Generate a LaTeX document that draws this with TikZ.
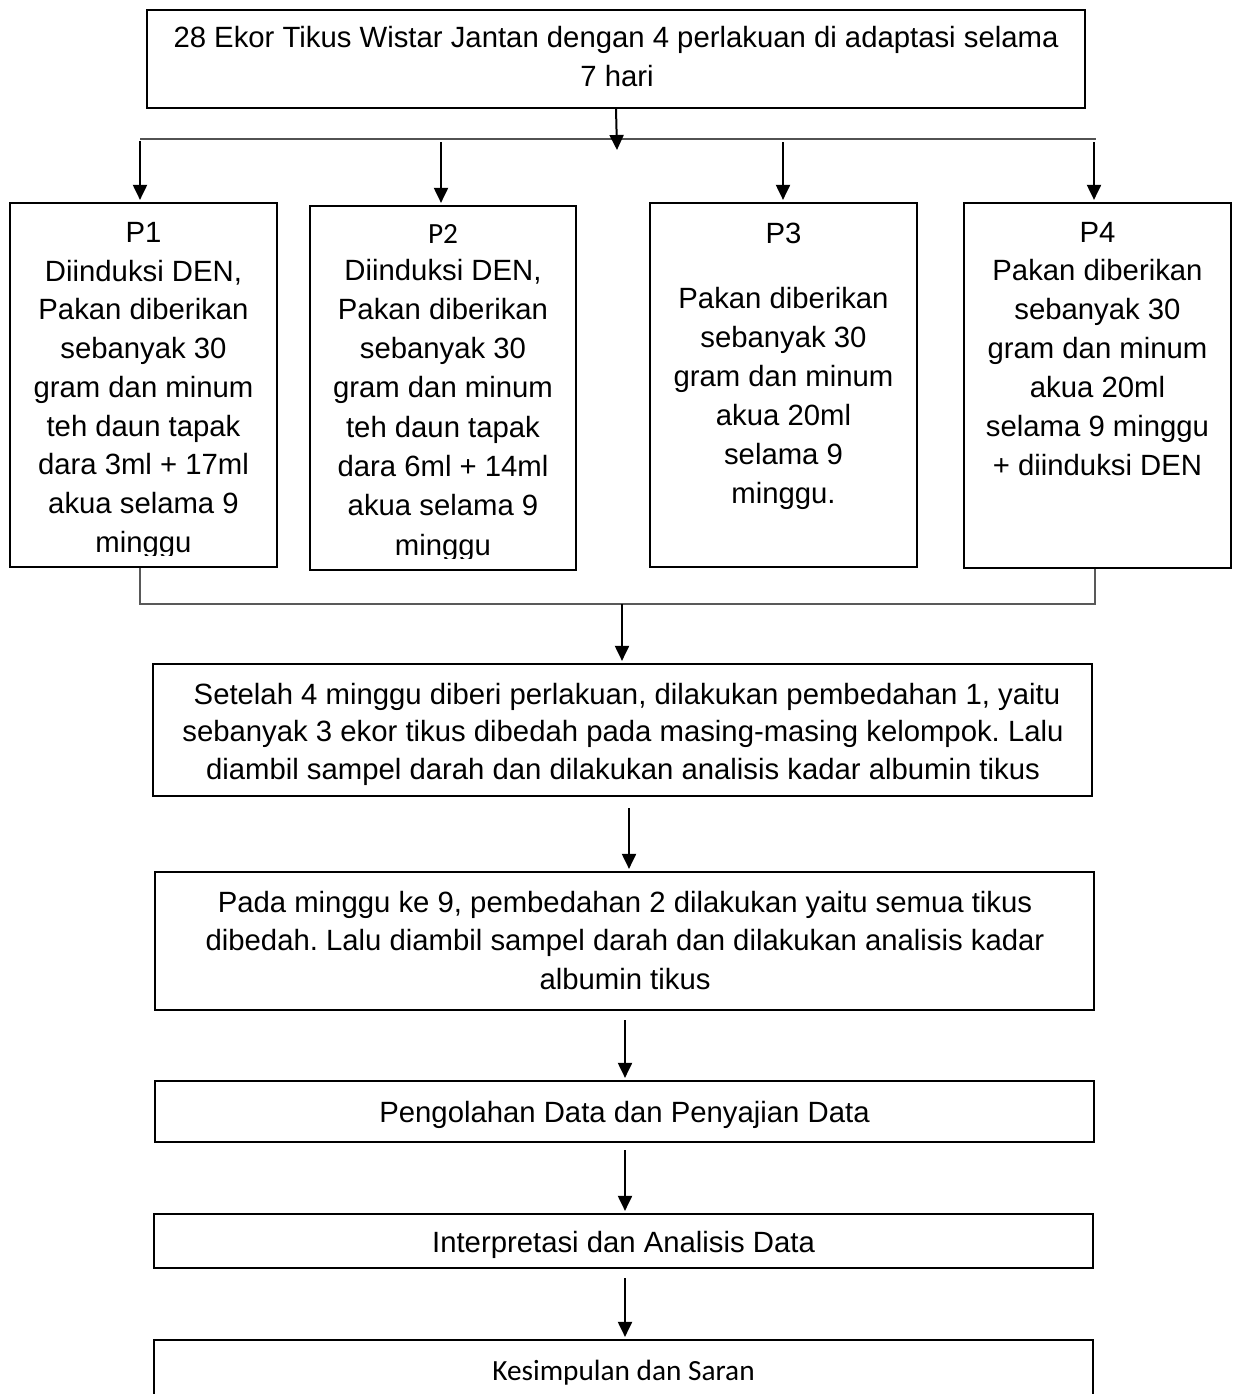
\documentclass[tikz,border=0pt]{standalone}
\usepackage{fontspec}
\setmainfont{Liberation Sans}
\newfontfamily\carl{Carlito}
\usetikzlibrary{arrows.meta}
\frenchspacing
\begin{document}
\begin{tikzpicture}[x=1pt,y=-1pt,
  box/.style={draw=black,line width=2.2pt,rectangle,inner sep=0pt,fill=none},
  txt/.style={anchor=base,inner sep=0pt,font=\fontsize{29.3}{38.75}\selectfont},
  ctxt/.style={anchor=base,inner sep=0pt,font=\carl\fontsize{29.3}{36}\selectfont},
  arr/.style={draw=black,line width=2pt,-{Triangle[length=15pt,width=14pt]},shorten >=2pt},
  gline/.style={draw=black!68,line width=2pt},
  cline/.style={draw=black!65,line width=1.2pt}]
\useasboundingbox (0,0) rectangle (1236,1394);
\fill[white] (0,0) rectangle (1236,1394);

% boxes
\node[box,minimum width=938pt,minimum height=98pt] (top) at (616,59) {};
\node[box,minimum width=267pt,minimum height=364pt] (p1) at (143.5,385) {};
\node[box,minimum width=266pt,minimum height=364pt] (p2) at (443,388) {};
\node[box,minimum width=267pt,minimum height=364pt] (p3) at (783.5,385) {};
\node[box,minimum width=267pt,minimum height=365pt] (p4) at (1097.5,385.5) {};
\node[box,minimum width=939pt,minimum height=132pt] (A) at (622.5,730) {};
\node[box,minimum width=939pt,minimum height=138pt] (B) at (624.5,941) {};
\node[box,minimum width=939pt,minimum height=61pt] (C) at (624.5,1111.5) {};
\node[box,minimum width=939pt,minimum height=54pt] (D) at (623.5,1241) {};
\node[box,minimum width=939pt,minimum height=100pt] (E) at (623.5,1390) {};

% texts
\node[txt] (t1) at (616,48) {28 Ekor Tikus Wistar Jantan dengan 4 perlakuan di adaptasi selama};
\node[txt] (t2) at (617,87) {7 hari};

\begin{scope}
\clip (10,200) rectangle (277,555);
\foreach \y/\t [count=\i] in {242/{P1},281/{Diinduksi DEN,},319.5/{Pakan diberikan},358/{sebanyak 30},397/{gram dan minum},436/{teh daun tapak},474.5/{dara 3ml + 17ml},513/{akua selama 9},552/{minggu}}
  \node[txt] (pa\i) at (143.5,\y) {\t};
\end{scope}

\node[ctxt] (pb1) at (443,243) {P2};
\begin{scope}
\clip (310,250) rectangle (576,558);
\foreach \y/\t [count=\i] in {280/{Diinduksi DEN,},319.3/{Pakan diberikan},358.6/{sebanyak 30},397.9/{gram dan minum},437.2/{teh daun tapak},476.5/{dara 6ml + 14ml},515.8/{akua selama 9},555/{minggu}}
  \node[txt] (pbb\i) at (443,\y) {\t};
\end{scope}

\foreach \y/\t [count=\i] in {243/{P3},308/{Pakan diberikan},347/{sebanyak 30},386/{gram dan minum},425/{akua 20ml},464/{selama 9},503/{minggu.}}
  \node[txt] (pc\i) at (783.5,\y) {\t};

\foreach \y/\t [count=\i] in {242/{P4},280/{Pakan diberikan},319/{sebanyak 30},358/{gram dan minum},397/{akua 20ml},436/{selama 9 minggu},475/{+ diinduksi DEN}}
  \node[txt] (pd\i) at (1097.5,\y) {\t};

\node[txt] (a1) at (627,704) {Setelah 4 minggu diberi perlakuan, dilakukan pembedahan 1, yaitu};
\node[txt] (a2) at (623,741.5) {sebanyak 3 ekor tikus dibedah pada masing-masing kelompok. Lalu};
\node[txt] (a3) at (623,779) {diambil sampel darah dan dilakukan analisis kadar albumin tikus};

\node[txt] (b1) at (625,912) {Pada minggu ke 9, pembedahan 2 dilakukan yaitu semua tikus};
\node[txt] (b2) at (625,950.5) {dibedah. Lalu diambil sampel darah dan dilakukan analisis kadar};
\node[txt] (b3) at (625,989) {albumin tikus};

\node[txt] (c1t) at (624.5,1122) {Pengolahan Data dan Penyajian Data};
\node[txt] (d1t) at (623.5,1252) {Interpretasi dan Analisis Data};
\node[ctxt] (e1t) at (623.5,1380) {Kesimpulan dan Saran};

% connectors
\coordinate (tipT) at (617,150);
\coordinate (hl) at (140,139);
\coordinate (hr) at (1096,139);
\draw[gline] (hl) -- (hr);
\draw[arr,shorten >=0pt] (top.south) -- (tipT);
\coordinate (s1) at (140,141);
\coordinate (s2) at (441,142);
\coordinate (s3) at (783,142);
\coordinate (s4) at (1094,142);
\draw[arr] (s1) -- (s1 |- p1.north);
\draw[arr] (s2) -- (s2 |- p2.north);
\draw[arr] (s3) -- (s3 |- p3.north);
\draw[arr] (s4) -- (s4 |- p4.north);

\coordinate (c1) at (140,604);
\coordinate (c4) at (1095,604);
\draw[cline] (c1 |- p1.south) -- (c1) -- (c4) -- (c4 |- p4.south);
\coordinate (c0) at (622,604);
\draw[arr] (c0) -- (c0 |- A.north);

\coordinate (ab) at (629,808);
\draw[arr] (ab) -- (ab |- B.north);
\coordinate (bc) at (625,1020);
\draw[arr] (bc) -- (bc |- C.north);
\coordinate (cd) at (625,1150);
\draw[arr] (cd) -- (cd |- D.north);
\coordinate (de) at (625,1278);
\draw[arr] (de) -- (de |- E.north);
\end{tikzpicture}
\end{document}
